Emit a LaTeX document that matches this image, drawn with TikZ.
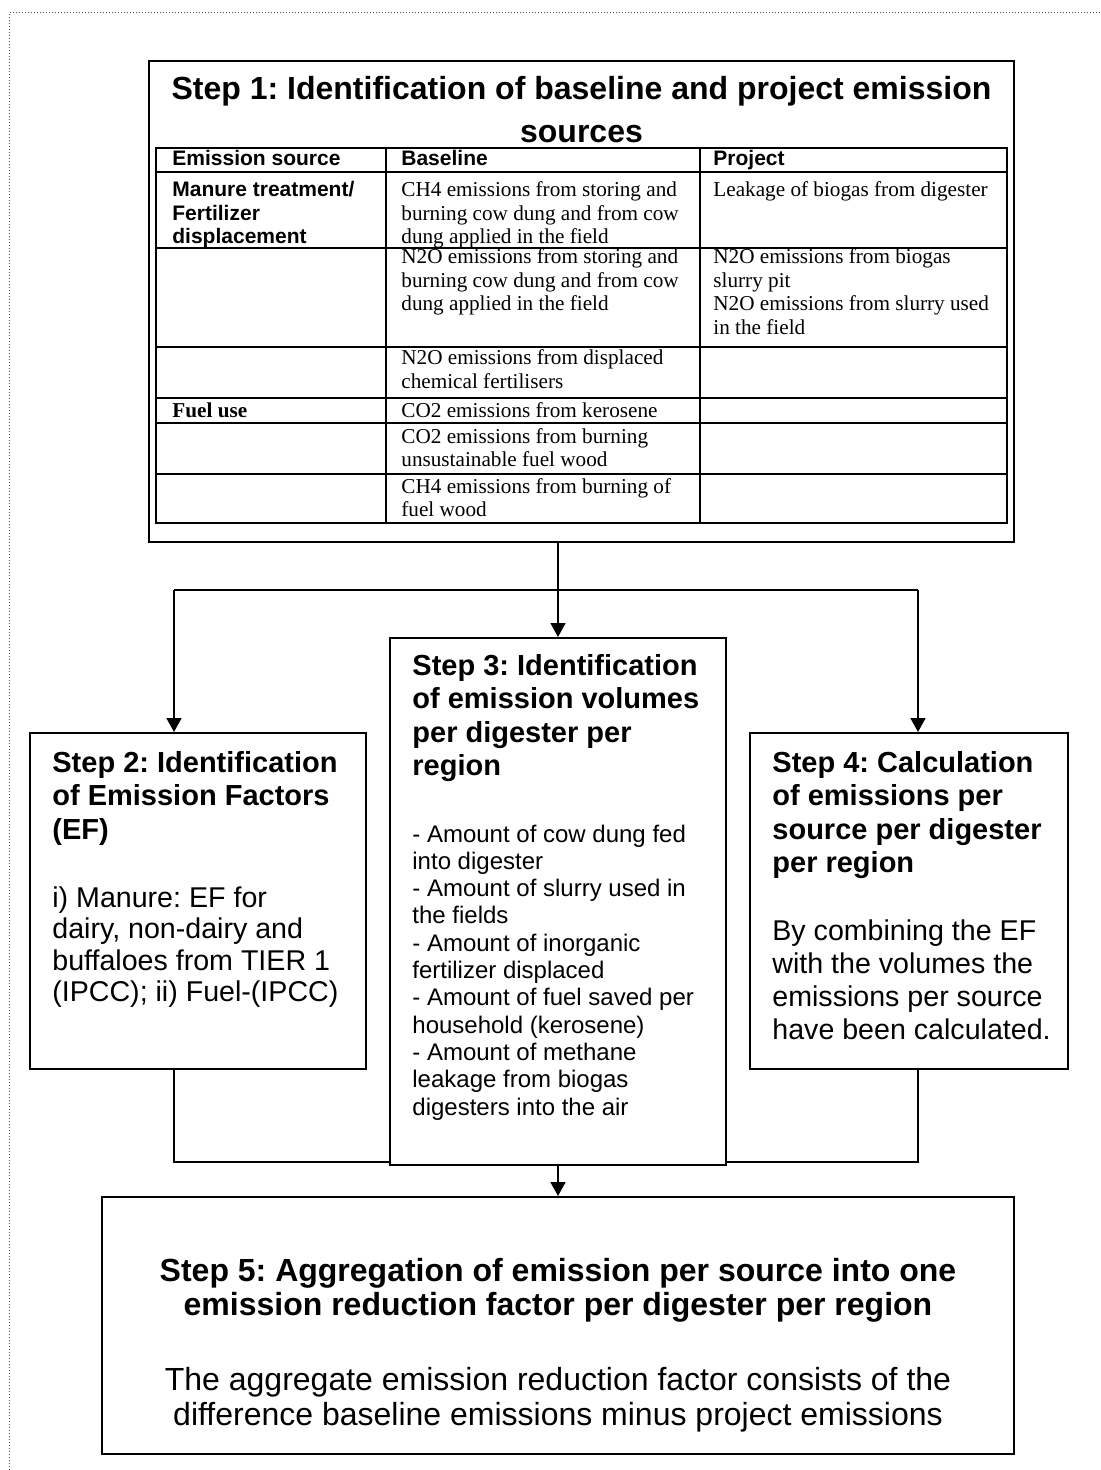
\documentclass[tikz,border=0pt]{standalone}
\usepackage{fontspec}
\setmainfont{Liberation Serif}
\setsansfont{Liberation Sans}
\usetikzlibrary{arrows.meta}
\frenchspacing

% multi-line nodes sit on the baseline of their last line
\tikzset{
  stepbox/.style={draw,line width=1pt,fill=white,inner sep=0pt},
  link/.style={line width=.8pt},
  head/.style={anchor=base west,inner sep=0pt,align=left,
    font=\sffamily\bfseries\fontsize{14.5}{16.75}\selectfont},
  body/.style={anchor=base west,inner sep=0pt,align=left,
    font=\sffamily\fontsize{14.3}{16.5}\selectfont},
  cell/.style={anchor=base west,inner sep=0pt,align=left,
    font=\fontsize{10.6}{11.7}\selectfont},
  cellhead/.style={cell,font=\sffamily\bfseries\fontsize{10.5}{11.7}\selectfont},
}

\begin{document}
\begin{tikzpicture}[x=.5pt,y=-.5pt,>={Triangle[length=7pt,width=7.5pt]}]
  \useasboundingbox (0,0) rectangle (1101,1470);
  \draw[dash pattern=on .5pt off 1pt,line width=.5pt,black!70] (9,1470) -- (9,13) -- (1101,13);

  % boxes
  \node[stepbox,line width=1.25pt,minimum width=432.5pt,minimum height=240.5pt] (s1) at (581.5,301.5) {};
  \node[stepbox,minimum width=168pt,minimum height=168pt] (s2) at (198,901) {};
  \node[stepbox,minimum width=168pt,minimum height=263.5pt] (s3) at (558,901.5) {};
  \node[stepbox,minimum width=159pt,minimum height=168pt] (s4) at (909,901) {};
  \node[stepbox,minimum width=456pt,minimum height=128.5pt] (s5) at (558,1325.5) {};

  % step 1 table
  \node[anchor=base,inner sep=0pt,align=center,
    font=\sffamily\bfseries\fontsize{16}{21.5}\selectfont] (t1) at (581.5,143)
    {Step 1: Identification of baseline and project emission\\sources};
  \draw[line width=1pt] (156,148) rectangle (1007,523);
  \foreach \y in {172,248,347,398,423,474}
    \draw[line width=1pt] (156,\y) -- (1007,\y);
  \foreach \x in {386,700}
    \draw[line width=1pt] (\x,148) -- (\x,523);
  \node[cellhead] (h1) at (172,166) {Emission source};
  \node[cellhead] (h2) at (401,166) {Baseline};
  \node[cellhead] (h3) at (713,166) {Project};
  \node[cellhead] (a1) at (172,243.8) {Manure treatment/\\Fertilizer\\displacement};
  \node[cell] (b1) at (401,243.8) {CH4 emissions from storing and\\burning cow dung and from cow\\dung applied in the field};
  \node[cell] (c1) at (713,197) {Leakage of biogas from digester};
  \node[cell] (b2) at (401,310.8) {N2O emissions from storing and\\burning cow dung and from cow\\dung applied in the field};
  \node[cell] (c2) at (713,334.2) {N2O emissions from biogas\\slurry pit\\N2O emissions from slurry used\\in the field};
  \node[cell] (b3) at (401,388.4) {N2O emissions from displaced\\chemical fertilisers};
  \node[cell,font=\bfseries\fontsize{10.6}{11.7}\selectfont] (a4) at (172,418) {Fuel use};
  \node[cell] (b4) at (401,418) {CO2 emissions from kerosene};
  \node[cell] (b5) at (401,466.4) {CO2 emissions from burning\\unsustainable fuel wood};
  \node[cell] (b6) at (401,516.4) {CH4 emissions from burning of\\fuel wood};

  % step 2 to 4
  \node[head] (t2) at (52,839) {Step 2: Identification\\of Emission Factors\\(EF)};
  \node[body,font=\sffamily\fontsize{14.3}{15.8}\selectfont] (x2) at (52,1001.8)
    {i) Manure: EF for\\dairy, non-dairy and\\buffaloes from TIER 1\\(IPCC); ii) Fuel-(IPCC)};
  \node[head] (t3) at (412,775.5) {Step 3: Identification\\of emission volumes\\per digester per\\region};
  \node[body,font=\sffamily\fontsize{12}{13.65}\selectfont] (x3) at (412,1115)
    {- Amount of cow dung fed\\into digester\\- Amount of slurry used in\\the fields\\- Amount of inorganic\\fertilizer displaced\\- Amount of fuel saved per\\household (kerosene)\\- Amount of methane\\leakage from biogas\\digesters into the air};
  \node[head] (t4) at (772,872.5) {Step 4: Calculation\\of emissions per\\source per digester\\per region};
  \node[body] (x4) at (772,1039) {By combining the EF\\with the volumes the\\emissions per source\\have been calculated.};

  % step 5
  \node[anchor=base,inner sep=0pt,align=center,
    font=\sffamily\bfseries\fontsize{16}{17}\selectfont] (t5) at (558,1315)
    {Step 5: Aggregation of emission per source into one\\emission reduction factor per digester per region};
  \node[anchor=base,inner sep=0pt,align=center,
    font=\sffamily\fontsize{16}{17.5}\selectfont] (x5) at (558,1425)
    {The aggregate emission reduction factor consists of the\\difference baseline emissions minus project emissions};

  % connectors
  \coordinate (jl) at (174,590);
  \coordinate (jr) at (918,590);
  \coordinate (bl) at (174,1162);
  \coordinate (br) at (918,1162);
  \draw[link,->] (s3.north |- s1.south) -- (s3.north);
  \draw[link] (jl) -- (jr);
  \draw[link,->] (jl) -- (jl |- s2.north);
  \draw[link,->] (jr) -- (jr |- s4.north);
  \draw[link] (jl |- s2.south) -- (bl) -- (s3.west |- bl);
  \draw[link] (s3.east |- bl) -- (br) -- (jr |- s4.south);
  \draw[link,->] (s3.south) -- (s5.north);
\end{tikzpicture}
\end{document}
